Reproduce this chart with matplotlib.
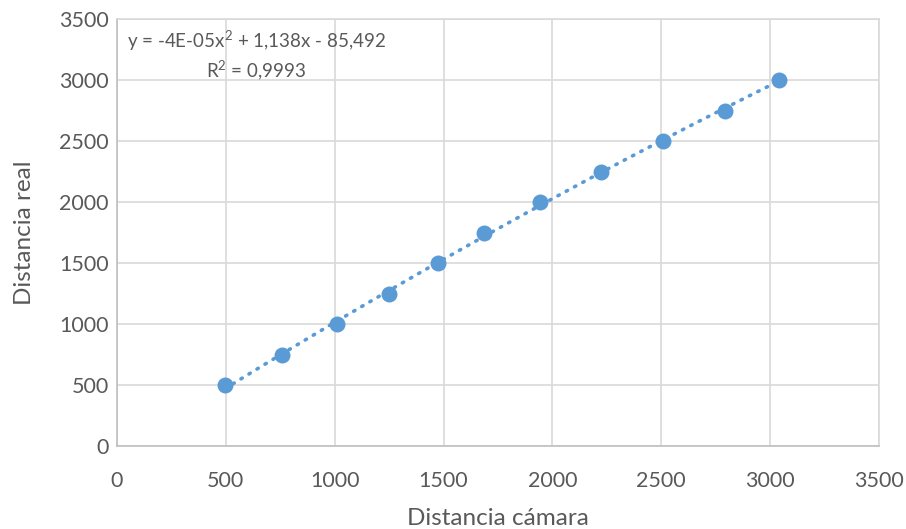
import numpy as np
import matplotlib
matplotlib.use("Agg")
import matplotlib.pyplot as plt

# Measured camera distance vs. real distance
distancia_camara = [496, 758, 1011, 1251, 1475, 1686, 1941, 2221, 2508, 2794, 3039]
distancia_real = [500, 750, 1000, 1250, 1500, 1750, 2000, 2250, 2500, 2750, 3000]
x_ticks = [0, 500, 1000, 1500, 2000, 2500, 3000, 3500]
y_ticks = [0, 500, 1000, 1500, 2000, 2500, 3000, 3500]
ecuacion = "y = -4E-05x$^\\mathregular{2}$ + 1,138x - 85,492\nR$^\\mathregular{2}$ = 0,9993"

plt.rcParams['font.family'] = ['Lato', 'DejaVu Sans']
plt.rcParams['mathtext.fontset'] = 'custom'
plt.rcParams['mathtext.rm'] = 'Lato'
blue = "#5B9BD5"
grey_text = "#595959"

fig = plt.figure(figsize=(9.06, 5.29), dpi=100)
ax = fig.add_axes([0.1291, 0.1560, 0.9702 - 0.1291, 0.9641 - 0.1560])

# Second-order polynomial trend line
coef = np.polyfit(distancia_camara, distancia_real, 2)
xs = np.linspace(min(distancia_camara), max(distancia_camara), 200)
ax.plot(xs, np.polyval(coef, xs), color=blue, lw=2.6, ls=(0, (0.4, 2.2)),
        dash_capstyle='round', zorder=2)

ax.plot(distancia_camara, distancia_real, 'o', color=blue, ms=11.5,
        markeredgewidth=0, zorder=3)

ax.set_xlim(0, 3500)
ax.set_ylim(0, 3500)
ax.set_xticks(x_ticks)
ax.set_yticks(y_ticks)
ax.grid(True, color="#D9D9D9", lw=1.2)
ax.set_axisbelow(True)
for side in ["top", "right"]:
    ax.spines[side].set_color("#D9D9D9")
    ax.spines[side].set_linewidth(1.2)
for side in ["left", "bottom"]:
    ax.spines[side].set_color("#BFBFBF")
    ax.spines[side].set_linewidth(1.2)
ax.tick_params(length=0, labelsize=15.5, labelcolor=grey_text)
ax.tick_params(axis='x', pad=18)
ax.tick_params(axis='y', pad=6)

ax.set_xlabel("Distancia cámara", fontsize=17.5, color=grey_text, labelpad=12)
ax.set_ylabel("Distancia real", fontsize=17.5, color=grey_text, labelpad=17)

ax.text(0.183, 0.914, ecuacion, transform=ax.transAxes, ha="center", va="center",
        multialignment="center", fontsize=13.5, color=grey_text, linespacing=1.3)

fig.savefig("out.png", dpi=100, facecolor="white")
